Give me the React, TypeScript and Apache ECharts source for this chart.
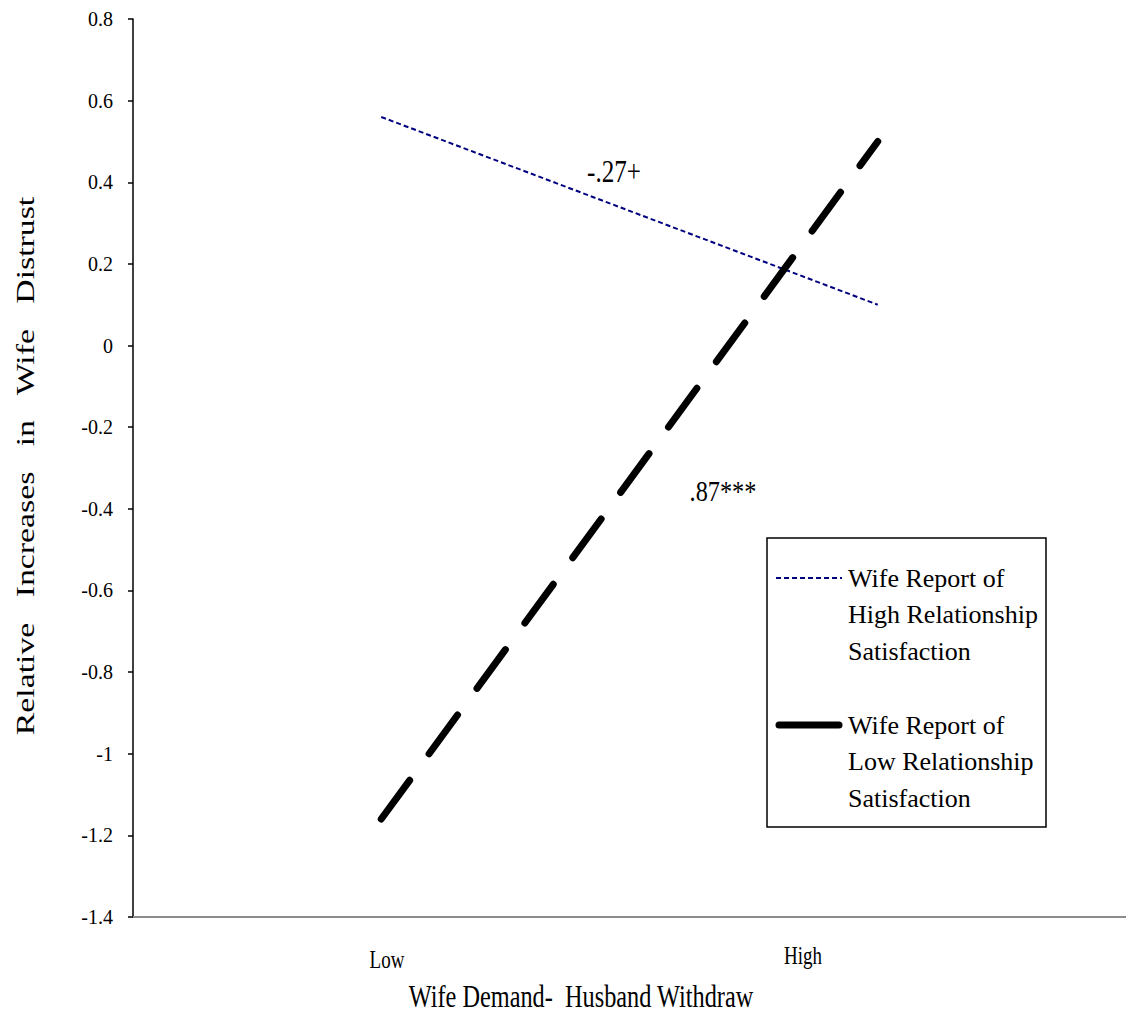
import React, { useEffect, useRef } from "react";
import * as echarts from "echarts";

// Positions of the two levels on the value x-axis and their labels
const xPositions = [1, 3];
const xLabels = ["Low", "High"];

// Simple slopes of relative increases in wife distrust
const highSatisfaction = [0.56, 0.1];
const lowSatisfaction = [-1.16, 0.5];

const seriesNames = [
  "Wife Report of\nHigh Relationship\nSatisfaction",
  "Wife Report of\nLow Relationship\nSatisfaction",
];
const slopeLabels = ["-.27+", ".87***"];

const yAxisTitle = "Relative   Increases   in   Wife   Distrust";
const xAxisTitle = "Wife Demand-  Husband Withdraw";

const FONT = "Liberation Serif";
const HIGH_COLOR = "#000080";
const LOW_COLOR = "#000000";

// helper for free-standing text, optionally condensed/stretched along its baseline
const label = (
  text: string,
  x: number,
  y: number,
  size: number,
  scaleX = 1,
  rotation = 0
) => ({
  type: "text",
  x,
  y,
  scaleX,
  rotation,
  style: {
    text,
    fontFamily: FONT,
    fontSize: size,
    fill: "#000",
    align: "center",
    verticalAlign: "middle",
  },
});

const legendText = (text: string, firstLineY: number) => ({
  type: "text",
  x: 848,
  y: firstLineY - 18.25,
  style: {
    text,
    fontFamily: FONT,
    fontSize: 26,
    lineHeight: 36.5,
    fill: "#000",
    align: "left",
    verticalAlign: "top",
  },
});

export default function App() {
  const ref = useRef<HTMLDivElement>(null);

  useEffect(() => {
    document.body.style.margin = "0";
    if (!ref.current) return;
    const chart = echarts.init(ref.current, undefined, { renderer: "svg" });

    const toPoints = (vals: number[]) => xPositions.map((x, i) => [x, vals[i]]);

    chart.setOption({
      animation: false,
      backgroundColor: "#ffffff",
      grid: {
        left: 133,
        right: 0,
        top: 19,
        bottom: 98,
        containLabel: false,
        outerBoundsMode: "none",
      },
      xAxis: {
        type: "value",
        min: 0,
        max: 4,
        axisLine: { onZero: false, lineStyle: { color: "#8c8c8c", width: 2 } },
        axisTick: { show: false },
        axisLabel: { show: false },
        splitLine: { show: false },
      },
      yAxis: {
        type: "value",
        min: -1.4,
        max: 0.8,
        interval: 0.2,
        axisLine: { show: true, onZero: false, lineStyle: { color: "#000", width: 1.5 } },
        axisTick: { show: true, length: 5, lineStyle: { color: "#000", width: 1.5 } },
        axisLabel: { fontFamily: FONT, fontSize: 20, color: "#000", margin: 20 },
        splitLine: { show: false },
      },
      series: [
        {
          type: "line",
          name: seriesNames[0],
          data: toPoints(highSatisfaction),
          symbol: "none",
          lineStyle: { color: HIGH_COLOR, width: 2, type: [5, 3] },
        },
        {
          type: "line",
          name: seriesNames[1],
          data: toPoints(lowSatisfaction),
          symbol: "none",
          lineStyle: { color: LOW_COLOR, width: 7, type: [48, 33], cap: "round" },
        },
      ],
      graphic: [
        // axis titles
        label(yAxisTitle, 25, 466, 26, 1.3, Math.PI / 2),
        label(xAxisTitle, 581, 996, 32, 0.76),
        // x-axis category labels
        label(xLabels[0], 387, 960, 25, 0.76),
        label(xLabels[1], 803, 956, 25, 0.76),
        // slope annotations
        label(slopeLabels[0], 614, 172, 31, 0.81),
        label(slopeLabels[1], 723, 491, 30, 0.81),
        // legend box
        {
          type: "group",
          children: [
            {
              type: "rect",
              shape: { x: 767, y: 538, width: 279, height: 289 },
              style: { fill: "#ffffff", stroke: "#000", lineWidth: 1.5 },
            },
            {
              type: "line",
              shape: { x1: 776, y1: 578, x2: 842, y2: 578 },
              style: { stroke: HIGH_COLOR, lineWidth: 2, lineDash: [5, 3] },
            },
            legendText(seriesNames[0], 578),
            {
              type: "line",
              shape: { x1: 779, y1: 725, x2: 839, y2: 725 },
              style: { stroke: LOW_COLOR, lineWidth: 7, lineCap: "round" },
            },
            legendText(seriesNames[1], 725),
          ],
        },
      ],
    });

    return () => chart.dispose();
  }, []);

  return <div ref={ref} style={{ width: 1126, height: 1015 }} />;
}
